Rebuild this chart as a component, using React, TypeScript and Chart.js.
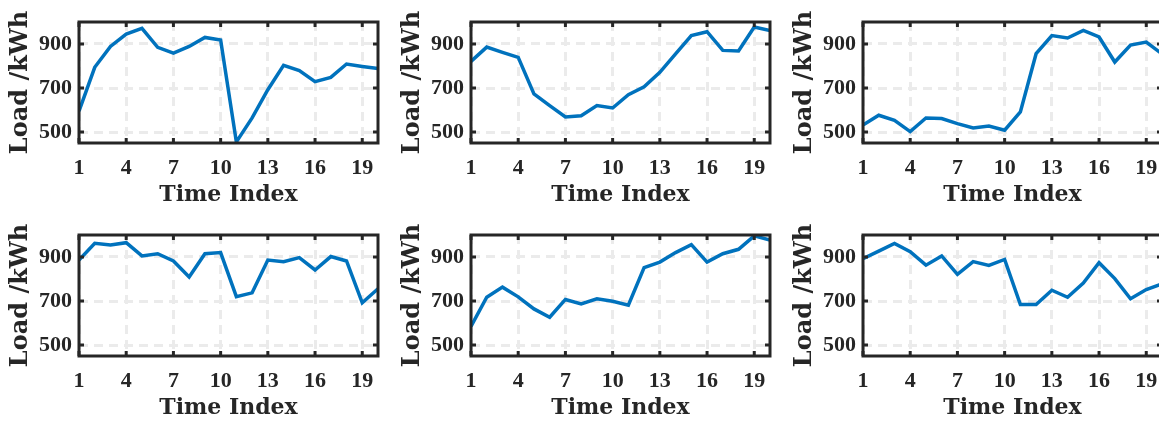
import React, { useEffect, useRef } from "react";
import { Chart, registerables } from "chart.js";

Chart.register(...registerables);

const timeIndex = [1, 2, 3, 4, 5, 6, 7, 8, 9, 10, 11, 12, 13, 14, 15, 16, 17, 18, 19, 20];
const xTickValues = [1, 4, 7, 10, 13, 16, 19];
const yTickValues = [500, 700, 900];
const xTitle = "Time Index";
const yTitle = "Load /kWh";

const load1 = [595, 794, 889, 945, 971, 885, 859, 889, 930, 918, 455, 564, 692, 803, 779, 729, 748, 809, 798, 788];
const load2 = [821, 886, 862, 839, 673, 620, 568, 574, 620, 609, 670, 705, 771, 855, 938, 956, 871, 868, 977, 961];
const load3 = [532, 576, 553, 502, 564, 561, 538, 518, 527, 508, 591, 856, 938, 927, 962, 932, 818, 895, 909, 855];
const load4 = [886, 962, 955, 965, 905, 915, 882, 809, 915, 920, 720, 737, 886, 879, 897, 841, 902, 882, 692, 756];
const load5 = [585, 717, 763, 719, 664, 626, 707, 687, 710, 699, 681, 852, 877, 920, 956, 877, 915, 935, 996, 977];
const load6 = [892, 927, 962, 924, 863, 905, 821, 879, 862, 889, 684, 684, 749, 717, 782, 874, 802, 710, 752, 778];

const X_MIN = 1;
const X_MAX = 20;
const Y_MIN = 450;
const Y_MAX = 1000;

const LINE_COLOR = "#0072BD";
const AXIS_COLOR = "#262626";
const GRID_COLOR = "#ebebeb";
const TITLE_FONT = "'DejaVu Serif', serif";
const TICK_FONT = "'Liberation Serif', serif";

const CANVAS_W = 390;
const Y_AXIS_W = 79;
const PAD_RIGHT = 12;

const framePlugin = {
  id: "matlabFrame",
  afterDraw(chart: any) {
    const { ctx, chartArea, scales } = chart;
    const { left, right, top, bottom } = chartArea;
    const tl = 5;
    ctx.save();
    ctx.strokeStyle = AXIS_COLOR;
    ctx.lineWidth = 3;
    ctx.lineCap = "butt";
    ctx.beginPath();
    xTickValues.forEach((v) => {
      const x = scales.x.getPixelForValue(v);
      ctx.moveTo(x, bottom);
      ctx.lineTo(x, bottom - tl);
      ctx.moveTo(x, top);
      ctx.lineTo(x, top + tl);
    });
    yTickValues.forEach((v) => {
      const y = scales.y.getPixelForValue(v);
      ctx.moveTo(left, y);
      ctx.lineTo(left + tl, y);
      ctx.moveTo(right, y);
      ctx.lineTo(right - tl, y);
    });
    ctx.stroke();
    ctx.lineJoin = "miter";
    ctx.strokeRect(left, top, right - left, bottom - top);
    ctx.restore();
  },
};

type PanelProps = {
  values: number[];
  left: number;
  top: number;
  height: number;
  padTop: number;
  xAxisH: number;
  titlePadBottom: number;
};

function Panel({ values, left, top, height, padTop, xAxisH, titlePadBottom }: PanelProps) {
  const ref = useRef<HTMLCanvasElement | null>(null);
  useEffect(() => {
    if (!ref.current) return;
    const chart = new Chart(ref.current, {
      type: "line",
      data: {
        datasets: [
          {
            data: timeIndex.map((t, i) => ({ x: t, y: values[i] })),
            borderColor: LINE_COLOR,
            borderWidth: 3.5,
            pointRadius: 0,
            tension: 0,
            fill: false,
          },
        ],
      },
      options: {
        animation: false,
        responsive: false,
        devicePixelRatio: 1,
        layout: { padding: { left: 0, right: PAD_RIGHT, top: padTop, bottom: 0 } },
        plugins: { legend: { display: false }, tooltip: { enabled: false } },
        scales: {
          x: {
            type: "linear",
            min: X_MIN,
            max: X_MAX,
            afterBuildTicks: (axis: any) => {
              axis.ticks = xTickValues.map((v) => ({ value: v }));
            },
            afterFit: (axis: any) => {
              axis.height = xAxisH;
            },
            grid: { color: GRID_COLOR, lineWidth: 3, drawTicks: false },
            border: { display: false, dash: [9, 6] },
            ticks: {
              padding: 12,
              color: AXIS_COLOR,
              font: { family: TICK_FONT, size: 22, weight: "bold" },
              maxRotation: 0,
              autoSkip: false,
            },
            title: {
              display: true,
              text: xTitle,
              color: AXIS_COLOR,
              font: { family: TITLE_FONT, size: 22, weight: "bold" },
              padding: { top: 0, bottom: titlePadBottom },
            },
          },
          y: {
            type: "linear",
            min: Y_MIN,
            max: Y_MAX,
            afterBuildTicks: (axis: any) => {
              axis.ticks = yTickValues.map((v) => ({ value: v }));
            },
            afterFit: (axis: any) => {
              axis.width = Y_AXIS_W;
            },
            grid: { color: GRID_COLOR, lineWidth: 3, drawTicks: false },
            border: { display: false, dash: [9, 6] },
            ticks: {
              padding: 7,
              color: AXIS_COLOR,
              font: { family: TICK_FONT, size: 22, weight: "bold" },
              autoSkip: false,
            },
            title: {
              display: true,
              text: yTitle,
              color: AXIS_COLOR,
              font: { family: TITLE_FONT, size: 24, weight: "bold" },
              padding: { top: 6.5, bottom: 0 },
            },
          },
        },
      },
      plugins: [framePlugin],
    });
    return () => chart.destroy();
  }, [values, padTop, xAxisH, titlePadBottom]);

  return (
    <div style={{ position: "absolute", left, top, width: CANVAS_W, height }}>
      <canvas ref={ref} width={CANVAS_W} height={height} style={{ width: CANVAS_W, height, display: "block" }} />
    </div>
  );
}

const colLefts = [0, 392, 784];

export default function App() {
  return (
    <div
      style={{
        position: "fixed",
        left: 0,
        top: 0,
        width: 1159,
        height: 421,
        overflow: "hidden",
        background: "#ffffff",
      }}
    >
      <Panel values={load1} left={colLefts[0]} top={0} height={210} padTop={22} xAxisH={67} titlePadBottom={2} />
      <Panel values={load2} left={colLefts[1]} top={0} height={210} padTop={22} xAxisH={67} titlePadBottom={2} />
      <Panel values={load3} left={colLefts[2]} top={0} height={210} padTop={22} xAxisH={67} titlePadBottom={2} />
      <Panel values={load4} left={colLefts[0]} top={210} height={211} padTop={25} xAxisH={65} titlePadBottom={0} />
      <Panel values={load5} left={colLefts[1]} top={210} height={211} padTop={25} xAxisH={65} titlePadBottom={0} />
      <Panel values={load6} left={colLefts[2]} top={210} height={211} padTop={25} xAxisH={65} titlePadBottom={0} />
    </div>
  );
}
